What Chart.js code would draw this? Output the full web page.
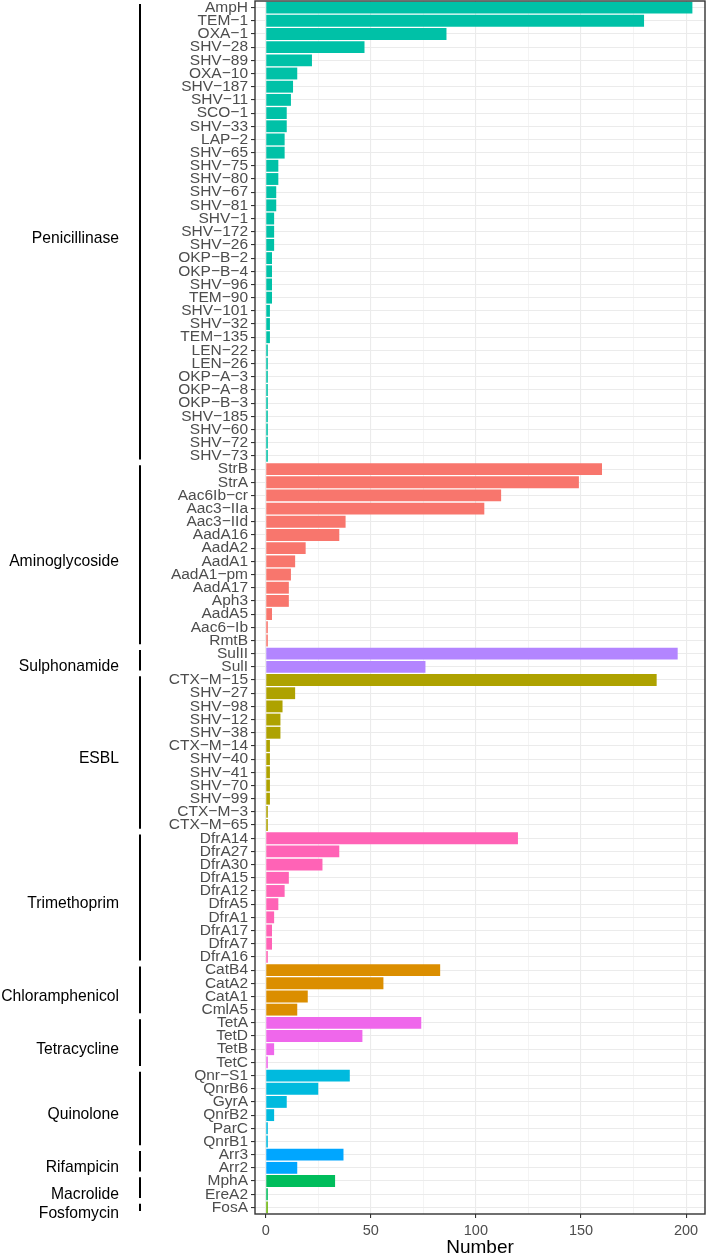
<!DOCTYPE html>
<html>
<head>
<meta charset="utf-8">
<script src="https://cdn.jsdelivr.net/npm/chart.js@4/dist/chart.umd.min.js"></script>
<style>
  html, body { margin: 0; padding: 0; background: #ffffff; }
  #wrap { position: relative; width: 708px; height: 1257px; }
</style>
</head>
<body>
<div id="wrap"><canvas id="c" width="708" height="1257"></canvas></div>
<script>
const GENES = [
  "AmpH","TEM−1","OXA−1","SHV−28","SHV−89","OXA−10","SHV−187","SHV−11","SCO−1","SHV−33","LAP−2","SHV−65","SHV−75","SHV−80","SHV−67","SHV−81","SHV−1","SHV−172","SHV−26","OKP−B−2","OKP−B−4","SHV−96","TEM−90","SHV−101","SHV−32","TEM−135","LEN−22","LEN−26","OKP−A−3","OKP−A−8","OKP−B−3","SHV−185","SHV−60","SHV−72","SHV−73",
  "StrB","StrA","Aac6Ib−cr","Aac3−IIa","Aac3−IId","AadA16","AadA2","AadA1","AadA1−pm","AadA17","Aph3","AadA5","Aac6−Ib","RmtB",
  "SulII","SulI",
  "CTX−M−15","SHV−27","SHV−98","SHV−12","SHV−38","CTX−M−14","SHV−40","SHV−41","SHV−70","SHV−99","CTX−M−3","CTX−M−65",
  "DfrA14","DfrA27","DfrA30","DfrA15","DfrA12","DfrA5","DfrA1","DfrA17","DfrA7","DfrA16",
  "CatB4","CatA2","CatA1","CmlA5",
  "TetA","TetD","TetB","TetC",
  "Qnr−S1","QnrB6","GyrA","QnrB2","ParC","QnrB1",
  "Arr3","Arr2",
  "MphA","EreA2",
  "FosA"
];
const COUNTS = [
  203,180,86,47,22,15,13,12,10,10,9,9,6,6,5,5,4,4,4,3,3,3,3,2,2,2,1,1,1,1,1,1,1,1,1,
  160,149,112,104,38,35,19,14,12,11,11,3,1,1,
  196,76,
  186,14,8,7,7,2,2,2,2,2,1,1,
  120,35,27,11,9,6,4,3,3,1,
  83,56,20,15,
  74,46,4,1,
  40,25,10,4,1,1,
  37,15,
  33,1,
  1
];
const GROUP_NAMES = ["Penicillinase","Aminoglycoside","Sulphonamide","ESBL","Trimethoprim","Chloramphenicol","Tetracycline","Quinolone","Rifampicin","Macrolide","Fosfomycin"];
const GROUP_SIZES = [35,14,2,12,10,4,4,6,2,2,1];
const GROUP_COLORS = ["#00C1A7","#F8766D","#B385FF","#AEA200","#FF63B6","#DB8E00","#EF67EB","#00BADE","#00A6FF","#00BD5C","#64B200"];
const X_TICKS = [0,25,50,75,100,125,150,175,200];
const X_LABELED = [0,50,100,150,200];

const barColors = [];
GROUP_SIZES.forEach((n, i) => { for (let k = 0; k < n; k++) barColors.push(GROUP_COLORS[i]); });

const FONT = "'Liberation Sans', Arial, Helvetica, sans-serif";

const groupPlugin = {
  id: 'groups',
  afterDraw(chart) {
    const ctx = chart.ctx;
    const y = chart.scales.y;
    const a = chart.chartArea;
    ctx.save();
    ctx.strokeStyle = '#333333';
    ctx.lineWidth = 1.4;
    ctx.strokeRect(a.left, a.top, a.right - a.left, a.bottom - a.top);
    let start = 0;
    const pitch = y.getPixelForValue(1) - y.getPixelForValue(0);
    GROUP_SIZES.forEach((n, i) => {
      const y0 = y.getPixelForValue(start) - pitch * 0.28;
      const y1 = y.getPixelForValue(start + n - 1) + pitch * 0.28;
      ctx.strokeStyle = '#000000';
      ctx.lineWidth = 2;
      ctx.beginPath();
      ctx.moveTo(140, y0);
      ctx.lineTo(140, y1);
      ctx.stroke();
      const yc = (y.getPixelForValue(start) + y.getPixelForValue(start + n - 1)) / 2 + pitch * 0.5;
      ctx.fillStyle = '#000000';
      ctx.font = '15.7px ' + FONT;
      ctx.textAlign = 'right';
      ctx.textBaseline = 'middle';
      ctx.fillText(GROUP_NAMES[i], 119, yc);
      start += n;
    });
    ctx.restore();
  }
};

new Chart(document.getElementById('c'), {
  type: 'bar',
  data: {
    labels: GENES,
    datasets: [{
      data: COUNTS,
      backgroundColor: barColors,
      borderWidth: 0,
      categoryPercentage: 0.9,
      barPercentage: 1.0
    }]
  },
  options: {
    indexAxis: 'y',
    responsive: false,
    animation: false,
    devicePixelRatio: 1,
    layout: { padding: { top: 1, right: 3, left: 0, bottom: 0 } },
    plugins: { legend: { display: false }, tooltip: { enabled: false } },
    scales: {
      y: {
        type: 'category',
        offset: true,
        afterFit(scale) { scale.width = 255; scale.paddingTop = 0; scale.paddingBottom = 0; },
        grid: {
          offset: false,
          color: '#EBEBEB',
          lineWidth: 1.1,
          drawTicks: true,
          tickLength: 4,
          tickColor: '#333333',
          tickWidth: 1.1
        },
        border: { display: false },
        ticks: {
          autoSkip: false,
          padding: 3,
          color: '#4D4D4D',
          font: { family: FONT, size: 15.5 }
        }
      },
      x: {
        type: 'linear',
        min: -5.1,
        max: 209,
        afterFit(scale) { scale.height = 43; scale.paddingLeft = 0; scale.paddingRight = 0; },
        afterBuildTicks(scale) { scale.ticks = X_TICKS.map(v => ({ value: v })); },
        grid: {
          color: '#EBEBEB',
          lineWidth: (c) => (c.tick && X_LABELED.includes(c.tick.value)) ? 1.1 : 0.55,
          drawTicks: true,
          tickLength: 4,
          tickColor: (c) => (c.tick && X_LABELED.includes(c.tick.value)) ? '#333333' : 'rgba(0,0,0,0)',
          tickWidth: 1.1
        },
        border: { display: false },
        ticks: {
          autoSkip: false,
          maxRotation: 0,
          padding: 4,
          color: '#4D4D4D',
          font: { family: FONT, size: 14.5 },
          callback: (v) => X_LABELED.includes(v) ? String(v) : ''
        },
        title: {
          display: true,
          text: 'Number',
          color: '#000000',
          padding: { top: 0, bottom: 0 },
          font: { family: FONT, size: 19, lineHeight: 1.0 }
        }
      }
    }
  },
  plugins: [groupPlugin]
});
</script>
</body>
</html>
